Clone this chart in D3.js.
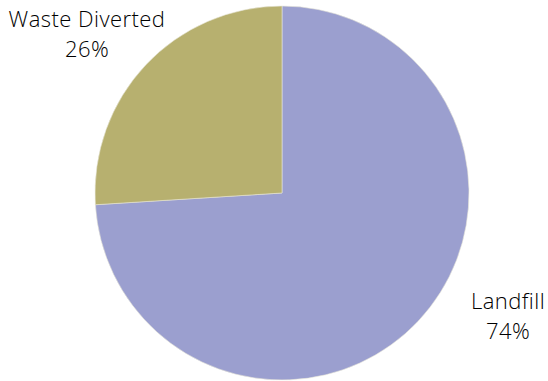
<!DOCTYPE html>
<html><head><meta charset="utf-8">
<script src="https://cdn.jsdelivr.net/npm/d3@7"></script>
<style>body{margin:0;background:#fff}text{font-family:"Open Sans",sans-serif;fill:#000}</style>
</head><body><svg id="c" width="548" height="381"></svg>
<script>
const categories = ["Landfill", "Waste Diverted"];
const values = [74, 26];
const colors = ["#9b9fcf", "#b7b06f"];

const svg = d3.select("#c");
const cx = 282, cy = 193, r = 187;
const g = svg.append("g").attr("transform", `translate(${cx},${cy})`);
const pie = d3.pie().sort(null).value(d => d)(values);
const arc = d3.arc().innerRadius(0).outerRadius(r);
g.selectAll("path").data(pie).join("path")
  .attr("d", arc).attr("fill", (d, i) => colors[i])
  .attr("stroke", "#e8e6d8").attr("stroke-width", 0.6);

// baseline of first label line, relative to pie center
const labelPos = [[226, 116], [-195, -166]];
const total = d3.sum(values);
pie.forEach((d, i) => {
  const [x, y] = labelPos[i];
  const t = g.append("text").attr("text-anchor", "middle").attr("font-size", 22)
    .attr("font-weight", 300).attr("letter-spacing", 0.45);
  t.append("tspan").attr("x", x).attr("y", y).text(categories[i]);
  t.append("tspan").attr("x", x).attr("y", y + 30).text(Math.round(values[i] / total * 100) + "%");
});
</script></body></html>
